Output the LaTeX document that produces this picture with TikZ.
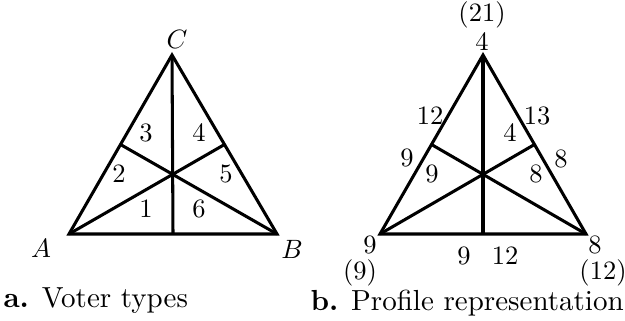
\documentclass[tikz,border=0pt]{standalone}
\usetikzlibrary{calc}
\tikzset{
  edge/.style   ={line width=1.15pt, line join=miter},
  num/.style    ={inner sep=0pt, font=\normalsize},
  vtx/.style    ={inner sep=0pt},
  caption/.style={anchor=base west, inner sep=0pt, font=\fontsize{10.95}{13.6}\selectfont},
}
\begin{document}
\begin{tikzpicture}[x=0.3774pt, y=-0.3774pt]
\useasboundingbox (0,0) rectangle (625,320);
% a. voter types
\coordinate (Aa) at (69,234);
\coordinate (Ba) at (277,234);
\coordinate (Ca) at (172,55);
\draw[edge] (Aa) -- (Ba) -- (Ca) -- cycle;
\draw[edge] (Ca) -- ($(Aa)!0.5!(Ba)$);
\draw[edge] (Aa) -- ($(Ba)!0.5!(Ca)$);
\draw[edge] (Ba) -- ($(Aa)!0.5!(Ca)$);
\node[vtx] (la) at (41,248) {$A$};
\node[vtx] (lb) at (292,249) {$B$};
\node[vtx] (lc) at (177,39) {$C$};
\node[num] (t1) at (146,209) {1};
\node[num] (t2) at (119,174) {2};
\node[num] (t3) at (146,133) {3};
\node[num] (t4) at (199,133) {4};
\node[num] (t5) at (226,174) {5};
\node[num] (t6) at (199,209) {6};
\node[caption] (capa) at (3,307) {\textbf{a.} Voter types};

% b. profile representation
\coordinate (Ab) at (380,234);
\coordinate (Bb) at (586,234);
\coordinate (Cb) at (483,55);
\draw[edge] (Ab) -- (Bb) -- (Cb) -- cycle;
\draw[edge] (Cb) -- ($(Ab)!0.5!(Bb)$);
\draw[edge] (Ab) -- ($(Bb)!0.5!(Cb)$);
\draw[edge] (Bb) -- ($(Ab)!0.5!(Cb)$);
\node[num] (totc) at (482,15) {(21)};
\node[num] (pc) at (482,42) {4};
\node[num] (tota) at (360,273) {(9)};
\node[num] (pa) at (370,245) {9};
\node[num] (totb) at (603,273) {(12)};
\node[num] (pb) at (595,245) {8};
\node[num] (sac) at (430,116) {12};
\node[num] (sca) at (407,158) {9};
\node[num] (sbc) at (537,116) {13};
\node[num] (scb) at (561,159) {8};
\node[num] (sab) at (464,256) {9};
\node[num] (sba) at (505,256) {12};
\node[num] (r4) at (510,133) {4};
\node[num] (r9) at (432,174) {9};
\node[num] (r8) at (536,174) {8};
\node[caption] (capb) at (310,310) {\textbf{b.} Profile representation};
\end{tikzpicture}
\end{document}
